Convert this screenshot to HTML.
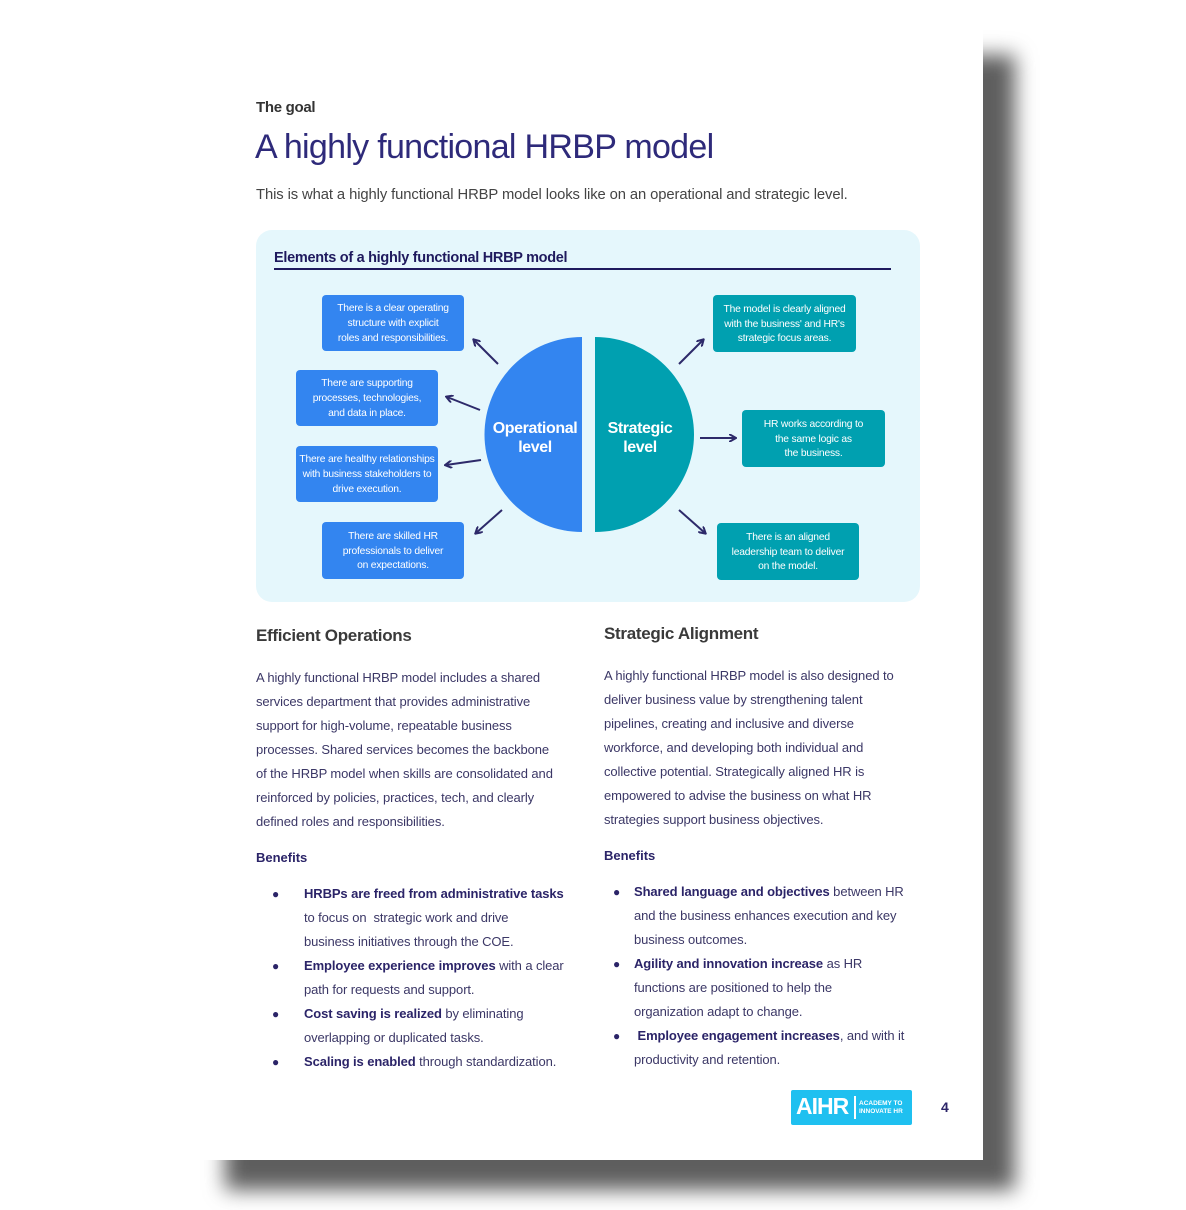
<!DOCTYPE html>
<html><head><meta charset="utf-8"><style>
*{margin:0;padding:0;box-sizing:border-box}
body{width:1186px;height:1210px;background:#fff;position:relative;overflow:hidden;font-family:"Liberation Sans",sans-serif}
.shadow{position:absolute;left:225px;top:55px;width:790px;height:1135px;background:#5e5e5e;filter:blur(10px)}
.page{position:absolute;left:0;top:0;width:983px;height:1160px;background:#fff}
.a{position:absolute;white-space:nowrap}
.p{font-size:13px;line-height:24px;color:#3b3766;letter-spacing:-0.1px}
.h{font-size:17px;font-weight:bold;color:#3a3a3a;letter-spacing:-0.3px}
.bn{font-size:13px;font-weight:bold;color:#2b2468}
.box{position:absolute;border-radius:4px;color:#fff;font-size:10.3px;line-height:14.7px;text-align:center;display:flex;align-items:center;justify-content:center;letter-spacing:-0.2px}
.bl{background:#3385f0}.tl{background:#00a0b0}
b{color:#2b2468}
.dot{position:absolute;font-size:12px;color:#2b2468}
</style></head><body>
<div class="shadow"></div>
<div class="page"></div>
<div class="a" style="left:256px;top:99px;font-size:15px;font-weight:bold;color:#333;letter-spacing:-0.3px">The goal</div>
<div class="a" style="left:255px;top:128px;font-size:34px;font-weight:300;color:#2e2a7a;letter-spacing:-0.7px">A highly functional HRBP model</div>
<div class="a" style="left:256px;top:187px;font-size:14.8px;color:#444;letter-spacing:-0.1px">This is what a highly functional HRBP model looks like on an operational and strategic level.</div>

<div style="position:absolute;left:256px;top:230px;width:664px;height:372px;background:#e5f7fc;border-radius:16px"></div>
<div class="a" style="left:274px;top:250px;font-size:14.5px;font-weight:bold;color:#1f1a5e;letter-spacing:-0.3px">Elements of a highly functional HRBP model</div>
<div style="position:absolute;left:274px;top:268px;width:617px;height:1.5px;background:#1f1a5e"></div>

<svg style="position:absolute;left:0;top:0" width="1186" height="1210">
<defs><marker id="m" markerWidth="8" markerHeight="8" refX="6" refY="4" orient="auto" markerUnits="userSpaceOnUse"><path d="M0,0 L7,4 L0,8" fill="none" stroke="#2d2a6a" stroke-width="2"/></marker></defs>
<path d="M582,337 A97,97 0 0 0 582,532 Z" fill="#3385f0"/>
<path d="M595,337 A99,97.5 0 0 1 595,532 Z" fill="#00a0b0"/>
<g stroke="#2d2a6a" stroke-width="2" fill="none" marker-end="url(#m)">
<line x1="498" y1="364" x2="474" y2="340"/>
<line x1="480" y1="410" x2="447" y2="397"/>
<line x1="481" y1="460" x2="446" y2="465"/>
<line x1="502" y1="510" x2="476" y2="533"/>
<line x1="679" y1="364" x2="703" y2="340"/>
<line x1="700" y1="438" x2="735" y2="438"/>
<line x1="679" y1="510" x2="705" y2="533"/>
</g>
</svg>
<div class="a" style="left:486px;top:419px;width:98px;text-align:center;color:#fff;font-size:16px;font-weight:bold;line-height:19px;letter-spacing:-0.4px">Operational<br>level</div>
<div class="a" style="left:596px;top:419px;width:88px;text-align:center;color:#fff;font-size:16px;font-weight:bold;line-height:19px;letter-spacing:-0.4px">Strategic<br>level</div>

<div class="box bl" style="left:322px;top:295px;width:142px;height:56px;padding-top:3px">There is a clear operating<br>structure with explicit<br>roles and responsibilities.</div>
<div class="box bl" style="left:296px;top:370px;width:142px;height:56px;padding-top:3px">There are supporting<br>processes, technologies,<br>and data in place.</div>
<div class="box bl" style="left:296px;top:446px;width:142px;height:56px;padding-top:3px">There are healthy relationships<br>with business stakeholders to<br>drive execution.</div>
<div class="box bl" style="left:322px;top:522px;width:142px;height:57px;padding-top:3px">There are skilled HR<br>professionals to deliver<br>on expectations.</div>
<div class="box tl" style="left:713px;top:295px;width:143px;height:57px;padding-top:3px">The model is clearly aligned<br>with the business' and HR's<br>strategic focus areas.</div>
<div class="box tl" style="left:742px;top:410px;width:143px;height:57px;padding-top:3px">HR works according to<br>the same logic as<br>the business.</div>
<div class="box tl" style="left:717px;top:523px;width:142px;height:57px;padding-top:3px">There is an aligned<br>leadership team to deliver<br>on the model.</div>

<div class="a h" style="left:256px;top:626px">Efficient Operations</div>
<div class="a p" style="left:256px;top:666px">A highly functional HRBP model includes a shared<br>services department that provides administrative<br>support for high-volume, repeatable business<br>processes. Shared services becomes the backbone<br>of the HRBP model when skills are consolidated and<br>reinforced by policies, practices, tech, and clearly<br>defined roles and responsibilities.</div>
<div class="a bn" style="left:256px;top:850px">Benefits</div>
<div class="dot" style="left:272px;top:887px">●</div>
<div class="dot" style="left:272px;top:959px">●</div>
<div class="dot" style="left:272px;top:1007px">●</div>
<div class="dot" style="left:272px;top:1055px">●</div>
<div class="a p" style="left:304px;top:882px"><b>HRBPs are freed from administrative tasks</b><br>to focus on&nbsp; strategic work and drive<br>business initiatives through the COE.<br><b>Employee experience improves</b> with a clear<br>path for requests and support.<br><b>Cost saving is realized</b> by eliminating<br>overlapping or duplicated tasks.<br><b>Scaling is enabled</b> through standardization.</div>

<div class="a h" style="left:604px;top:624px">Strategic Alignment</div>
<div class="a p" style="left:604px;top:664px">A highly functional HRBP model is also designed to<br>deliver business value by strengthening talent<br>pipelines, creating and inclusive and diverse<br>workforce, and developing both individual and<br>collective potential. Strategically aligned HR is<br>empowered to advise the business on what HR<br>strategies support business objectives.</div>
<div class="a bn" style="left:604px;top:848px">Benefits</div>
<div class="dot" style="left:613px;top:885px">●</div>
<div class="dot" style="left:613px;top:957px">●</div>
<div class="dot" style="left:613px;top:1029px">●</div>
<div class="a p" style="left:634px;top:880px"><b>Shared language and objectives</b> between HR<br>and the business enhances execution and key<br>business outcomes.<br><b>Agility and innovation increase</b> as HR<br>functions are positioned to help the<br>organization adapt to change.<br>&nbsp;<b>Employee engagement increases</b>, and with it<br>productivity and retention.</div>

<div style="position:absolute;left:791px;top:1090px;width:121px;height:35px;background:#1fc0f0;border-radius:2px"></div>
<div class="a" style="left:796px;top:1093px;color:#fff;font-size:23px;font-weight:bold;letter-spacing:-1px">AIHR</div>
<div style="position:absolute;left:854px;top:1096px;width:1.5px;height:23px;background:#fff"></div>
<div class="a" style="left:859px;top:1100px;color:#fff;font-size:6.5px;font-weight:bold;line-height:8px">ACADEMY TO<br>INNOVATE HR</div>
<div class="a" style="left:941px;top:1099px;font-size:14px;font-weight:bold;color:#2b2468">4</div>
</body></html>
